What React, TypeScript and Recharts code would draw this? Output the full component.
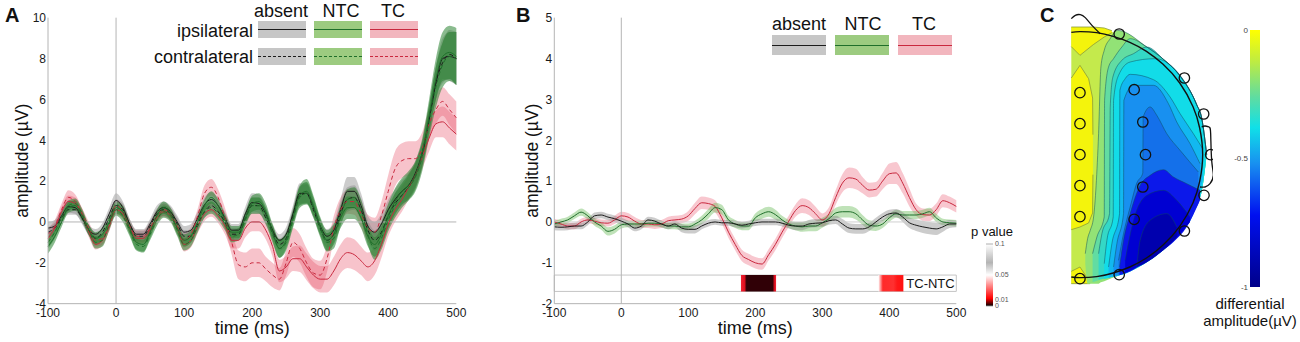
import React from 'react';
import {
  ComposedChart, Area, Line, Scatter, XAxis, YAxis, ReferenceLine, ReferenceArea,
} from 'recharts';

const FONT = '"Liberation Sans", Arial, sans-serif';

const times = [-100,-90,-80,-70,-60,-50,-40,-30,-20,-10,0,10,20,30,40,50,60,70,80,90,100,110,120,130,140,150,160,170,180,190,200,210,220,230,240,250,260,270,280,290,300,310,320,330,340,350,360,370,380,390,400,410,420,430,440,450,460,470,480,490,500];

// Panel A: means
const absentIpsi = [-0.3,-0.2,0.3,0.75,0.7,0.2,-0.4,-0.6,-0.3,0.4,1.05,0.7,-0.1,-0.6,-0.6,-0.1,0.5,0.7,0.5,0,-0.5,-0.4,0.2,0.85,1.1,0.8,0.2,-0.4,-0.4,0.4,0.95,0.9,0.4,-0.4,-0.9,-0.6,0.4,1.4,1.4,0.7,-0.2,-0.7,-0.4,0.6,1.5,1.5,0.8,-0.2,-0.5,-0.1,0.6,1.1,1.5,1.8,2.4,3.4,5,6.8,8,8.1,8];
const absentContra = [-0.5,-0.3,0.2,0.6,0.6,0.2,-0.4,-0.8,-0.5,0.2,0.8,0.6,-0.1,-0.7,-0.7,-0.2,0.4,0.6,0.4,-0.1,-0.7,-0.7,-0.1,0.5,0.8,0.5,0,-0.6,-0.6,0.2,0.8,0.8,0.2,-0.5,-1.1,-0.8,0.3,1.3,1.4,0.6,-0.3,-0.9,-0.6,0.4,1.1,1.2,0.6,-0.4,-0.9,-0.5,0.3,0.9,1.3,1.7,2.3,3.3,5,6.8,7.8,8.2,8];
const ntcIpsi = [-1.2,-0.7,0,0.7,0.8,0.3,-0.4,-0.8,-0.6,0,0.7,0.5,-0.3,-1,-1.1,-0.5,0.3,0.7,0.4,-0.3,-0.9,-0.7,0,0.8,1.2,0.8,0.1,-0.5,-0.5,0.2,0.9,1,0.5,-0.5,-1.3,-0.9,0.2,1.3,1.5,0.8,-0.2,-0.9,-0.6,0.2,0.7,0.7,0.2,-0.7,-1.1,-0.6,0.3,1,1.5,1.8,2.3,3.4,5.2,7,8.1,8.3,8.1];
const ntcContra = [-1,-0.5,0.2,0.8,0.9,0.4,-0.4,-1,-0.9,-0.1,0.6,0.3,-0.4,-1.1,-1.2,-0.6,0.1,0.5,0.3,-0.4,-1.1,-0.9,-0.2,0.5,0.7,0.4,-0.1,-0.7,-0.6,0.1,0.8,0.8,0.3,-0.6,-1.3,-1,0.1,1.2,1.4,0.7,-0.3,-1,-0.8,0.3,1.1,1.2,0.6,-0.6,-1.3,-0.8,0.1,0.8,1.3,1.7,2.2,3.2,4.9,6.6,7.7,8.1,8];
const tcIpsi = [-0.8,-0.3,0.5,1,0.9,0.4,-0.5,-1.1,-0.9,-0.2,0.6,0.4,-0.3,-0.8,-0.8,-0.4,0.2,0.5,0.3,-0.3,-1.1,-0.9,-0.2,0.4,0.6,0.3,-0.2,-0.9,-0.9,-0.3,0,0,-0.4,-1.2,-2.4,-2.2,-1.8,-1.8,-2.2,-2.6,-2.8,-2.8,-2.4,-1.8,-1.5,-1.6,-1.9,-2.2,-1.9,-1.1,-0.1,0.6,1.1,1.7,2.3,3.2,4.1,4.8,4.9,4.6,4.3];
const tcContra = [-0.6,-0.2,0.6,1.2,1,0.4,-0.3,-0.9,-0.8,-0.1,0.8,0.5,-0.2,-0.7,-0.7,-0.3,0.3,0.6,0.4,-0.2,-0.9,-0.6,0.3,1.4,1.7,1.2,0.2,-1,-2.1,-2.2,-2,-2,-2.3,-2.6,-2.8,-2,-1,-1.3,-2,-2.5,-2.6,-1.8,-0.3,0.6,1,1,0.4,-0.3,-0.5,0.3,1.5,2.6,3,3.1,3.1,3.6,4.8,5.5,5.9,5.5,5.1];

// Panel A: error widths
const errAbsentIpsi = [0.3,0.3,0.3,0.3,0.3,0.3,0.25,0.25,0.25,0.3,0.35,0.3,0.25,0.25,0.25,0.25,0.3,0.3,0.3,0.3,0.3,0.3,0.3,0.35,0.35,0.35,0.3,0.3,0.3,0.35,0.45,0.45,0.35,0.3,0.3,0.35,0.4,0.5,0.5,0.4,0.35,0.35,0.4,0.5,0.7,0.7,0.6,0.5,0.5,0.5,0.5,0.5,0.55,0.6,0.6,0.6,0.7,0.8,1,1.2,1.3];
const errAbsentContra = [0.25,0.25,0.25,0.25,0.25,0.25,0.25,0.25,0.25,0.3,0.3,0.3,0.25,0.25,0.25,0.25,0.25,0.3,0.3,0.3,0.3,0.3,0.3,0.3,0.3,0.3,0.3,0.3,0.3,0.3,0.4,0.4,0.35,0.3,0.3,0.35,0.4,0.45,0.45,0.4,0.35,0.35,0.4,0.5,0.6,0.6,0.55,0.5,0.5,0.5,0.5,0.5,0.5,0.55,0.6,0.6,0.7,0.8,1,1.2,1.3];
const errNtcIpsi = [0.35,0.3,0.25,0.25,0.25,0.25,0.25,0.3,0.3,0.3,0.3,0.3,0.3,0.35,0.35,0.3,0.3,0.3,0.3,0.3,0.3,0.3,0.3,0.3,0.3,0.3,0.3,0.3,0.3,0.3,0.4,0.4,0.4,0.4,0.45,0.4,0.4,0.5,0.6,0.5,0.45,0.5,0.5,0.5,0.55,0.55,0.5,0.5,0.6,0.6,0.6,0.65,0.65,0.7,0.7,0.7,0.8,1,1.2,1.3,1.4];
const errNtcContra = [0.3,0.3,0.25,0.25,0.25,0.25,0.25,0.3,0.3,0.3,0.3,0.3,0.3,0.3,0.3,0.3,0.3,0.3,0.3,0.3,0.3,0.3,0.3,0.3,0.3,0.3,0.3,0.3,0.3,0.3,0.4,0.4,0.4,0.4,0.45,0.4,0.4,0.5,0.55,0.5,0.45,0.45,0.5,0.5,0.5,0.5,0.5,0.5,0.55,0.55,0.55,0.6,0.6,0.65,0.7,0.7,0.8,1,1.1,1.2,1.3];
const errTcIpsi = [0.25,0.25,0.25,0.3,0.3,0.25,0.25,0.25,0.25,0.25,0.25,0.25,0.25,0.25,0.25,0.25,0.25,0.25,0.25,0.3,0.35,0.35,0.35,0.35,0.35,0.35,0.4,0.4,0.4,0.45,0.45,0.45,0.45,0.5,0.55,0.55,0.6,0.65,0.65,0.65,0.65,0.65,0.7,0.7,0.75,0.75,0.7,0.7,0.7,0.65,0.6,0.6,0.6,0.6,0.6,0.6,0.65,0.65,0.75,0.8,0.8];
const errTcContra = [0.3,0.3,0.3,0.35,0.35,0.3,0.3,0.3,0.3,0.3,0.3,0.3,0.3,0.3,0.3,0.3,0.3,0.3,0.3,0.3,0.35,0.35,0.35,0.4,0.4,0.4,0.5,0.6,0.7,0.7,0.7,0.7,0.6,0.6,0.55,0.6,0.7,0.7,0.7,0.7,0.7,0.65,0.6,0.6,0.6,0.65,0.65,0.65,0.7,0.7,0.8,0.85,0.85,0.85,0.85,0.8,0.75,0.7,0.7,0.75,0.8];

// Panel B
const diffAbsent = [-0.12,-0.13,-0.12,-0.1,-0.1,0,0.15,0.17,0.12,0.08,0.02,-0.05,-0.15,-0.1,0.05,0.02,-0.05,-0.1,-0.05,-0.15,-0.18,-0.18,-0.1,-0.03,0,-0.02,-0.02,-0.05,-0.08,-0.05,-0.02,0,0,0,-0.03,-0.08,-0.1,-0.1,-0.05,-0.03,-0.02,0.03,0.05,-0.05,-0.15,-0.17,-0.17,-0.12,0,0.12,0.2,0.22,0.12,-0.02,-0.08,-0.12,-0.15,-0.17,-0.12,-0.05,-0.05];
const diffNtc = [-0.05,0,0.05,0.15,0.24,0.15,0,-0.1,-0.23,-0.18,-0.07,-0.05,-0.05,-0.05,-0.03,-0.03,-0.05,-0.1,-0.1,-0.12,-0.12,-0.05,0.05,0.2,0.35,0.3,0.05,-0.05,-0.1,-0.1,0.1,0.2,0.25,0.18,0.05,-0.05,-0.1,-0.12,-0.1,-0.1,-0.02,0.08,0.22,0.25,0.25,0.2,0.05,-0.08,-0.1,-0.05,0.1,0.2,0.17,0.17,0.17,0.2,0.25,0.1,0,-0.02,-0.03];
const diffTc = [0,-0.05,-0.1,-0.1,0,0.05,0.02,-0.02,-0.03,0.05,0.15,0.12,0.02,-0.05,-0.05,-0.07,-0.05,0.03,0.05,0.07,0.15,0.33,0.47,0.45,0.38,0.1,-0.25,-0.55,-0.82,-0.92,-1,-1.03,-0.8,-0.55,-0.25,0.02,0.28,0.4,0.35,0.2,0.05,0.2,0.6,0.95,1.08,1.05,0.9,0.78,0.8,1,1.18,1.2,0.95,0.6,0.3,0.18,0.17,0.3,0.52,0.47,0.38];
const errDiffAbsent = [0.08,0.08,0.08,0.08,0.08,0.08,0.08,0.08,0.08,0.08,0.08,0.08,0.08,0.08,0.08,0.08,0.08,0.08,0.08,0.1,0.1,0.1,0.08,0.08,0.07,0.07,0.07,0.08,0.08,0.08,0.08,0.08,0.08,0.08,0.08,0.08,0.1,0.1,0.1,0.1,0.1,0.1,0.1,0.12,0.12,0.12,0.12,0.1,0.1,0.1,0.1,0.1,0.12,0.13,0.14,0.15,0.15,0.15,0.12,0.1,0.08];
const errDiffNtc = [0.08,0.08,0.08,0.08,0.09,0.09,0.09,0.09,0.1,0.1,0.09,0.08,0.08,0.08,0.08,0.08,0.08,0.08,0.08,0.08,0.08,0.08,0.1,0.12,0.12,0.12,0.1,0.1,0.1,0.1,0.11,0.12,0.12,0.12,0.1,0.1,0.1,0.12,0.13,0.13,0.12,0.12,0.13,0.14,0.14,0.14,0.12,0.12,0.12,0.1,0.1,0.1,0.1,0.1,0.1,0.1,0.1,0.1,0.08,0.08,0.08];
const errDiffTc = [0.08,0.08,0.08,0.08,0.08,0.08,0.08,0.08,0.08,0.1,0.1,0.1,0.1,0.1,0.1,0.1,0.1,0.1,0.1,0.1,0.12,0.14,0.15,0.15,0.15,0.14,0.14,0.14,0.14,0.14,0.14,0.14,0.14,0.14,0.14,0.14,0.15,0.18,0.18,0.17,0.16,0.16,0.18,0.22,0.25,0.25,0.2,0.18,0.18,0.2,0.25,0.27,0.25,0.22,0.15,0.15,0.15,0.15,0.16,0.15,0.15];

const ticksTime = [-100,0,100,200,300,400,500];
const ticksA = [-4,-2,0,2,4,6,8,10];
const ticksB = [-2,-1,0,1,2,3,4,5];
const sigRow = [-1.7,-1.3];
const sigEarly = [178.6,231];
const sigLate = [383.6,421];
const labelSpan = [425,498];
const pTicks = [0,0.01,0.05,0.1];
const pRange = [0,0.1];
const cbTicks = [0,-0.5,-1];
const cbRange = [-1,0];

// Panel C: scalp map, head radius = 369 units, midline at x = 0
const discOutline = [[-26,383,-387],[0,381,-381],[51,378,-378],[113,364,-364],[151,350,-350],[201,323,-323],[251,286,-286],[301,236,-236],[351,150,-150],[366,110,-110],[381,0,0]];
const yellowColumn = [[-26,230,-225],[0,268,-217],[26,228,-205],[38,170,-175],[39,60,-60]];
const yellowTop = [[-26,383,324],[0,383,298],[40,383,330],[73,380,353],[96,372,366]];
const yellowBottom = [[-26,-350,-387],[0,-337,-387],[22,-370,-387],[30,-387,-387]];
const levels = [
  { color: '#92e276', pts: [[16,-297,-327],[23,-252,-387],[31,-227,-387],[41,-187,-387],[56,63,-387],[63,263,-383],[73,313,-380],[91,348,-372],[113,373,-364],[201,323,-323],[251,286,-286],[301,236,-236],[351,150,-150],[366,110,-110],[381,0,0]] },
  { color: '#62dca2', pts: [[38,-297,-382],[51,-247,-378],[73,-187,-372],[74,163,-372],[86,263,-369],[101,288,-365],[126,323,-359],[151,348,-350],[201,323,-323],[251,286,-286],[301,236,-236],[351,150,-150],[366,110,-110],[381,0,0]] },
  { color: '#34d8c6', pts: [[56,-297,-375],[66,-237,-373],[89,-177,-369],[91,143,-368],[99,233,-366],[126,283,-359],[161,303,-345],[201,323,-323],[251,286,-286],[301,236,-236],[351,150,-150],[366,110,-110],[381,0,0]] },
  { color: '#12dce8', pts: [[73,-327,-372],[81,-257,-370],[100,-187,-366],[101,163,-366],[116,238,-363],[151,278,-350],[226,288,-305],[301,238,-236],[351,150,-150],[366,110,-110],[381,0,0]] },
  { color: '#12b8f0', pts: [[86,-337,-369],[96,-267,-367],[119,-177,-361],[120,193,-361],[136,228,-357],[151,241,-350],[221,225,-305],[271,173,-262],[301,123,-236],[341,63,-177],[369,18,-77]] },
  { color: '#1890f0', pts: [[101,-337,-365],[111,-267,-363],[131,-177,-357],[132,163,-357],[161,208,-345],[221,208,-305],[266,153,-262],[291,98,-242],[331,33,-187],[361,-27,-127]] },
  { color: '#1470ea', pts: [[116,-317,-362],[131,-237,-357],[151,-157,-350],[171,-85,-337],[189,-55,-328],[190,113,-327],[211,143,-315],[231,118,-299],[261,63,-272],[301,13,-236],[356,-52,-147]] },
  { color: '#0c18ea', pts: [[119,-337,-362],[131,-257,-357],[151,-177,-350],[181,-92,-332],[211,-62,-315],[251,-45,-286],[281,-67,-262],[321,-87,-217],[361,-107,-137]] },
  { color: '#0000d2', pts: [[136,-317,-355],[161,-197,-343],[201,-122,-323],[251,-107,-286],[291,-137,-249],[331,-187,-202]] },
  { color: '#0000ae', pts: [[171,-337,-337],[181,-257,-332],[211,-197,-315],[261,-177,-277],[291,-217,-247]] },
];
const electrodes = [[0,186],[0,93],[0,0],[0,-93],[0,-186],[0,-372],[118,362],[314,230],[372,122],[393,0],[373,-122],[314,-229],[118,-360],[163,195],[189,98],[197,0],[189,-97],[163,-194]];
const headArc = [[-26,367],[0,369],[50,366],[100,355],[150,337],[200,310],[250,271],[300,215],[340,144],[360,80],[369,0],[360,-80],[340,-144],[300,-215],[250,-271],[200,-310],[150,-337],[100,-355],[50,-366],[0,-369],[-26,-367]];
const noseTrace = [[-26,408],[-14,418],[1,420],[16,411],[36,388],[61,363]];
const earTrace = [[366,83],[376,86],[388,83],[393,63],[396,-17],[401,-62],[391,-87],[376,-97],[361,-97]];

const band = (m: number, e: number) => [m - e, m + e];
const rowsA = times.map((t, i) => ({
  t,
  absentIpsi: absentIpsi[i], absentContra: absentContra[i],
  ntcIpsi: ntcIpsi[i], ntcContra: ntcContra[i],
  tcIpsi: tcIpsi[i], tcContra: tcContra[i],
  bAbsentIpsi: band(absentIpsi[i], errAbsentIpsi[i]),
  bAbsentContra: band(absentContra[i], errAbsentContra[i]),
  bNtcIpsi: band(ntcIpsi[i], errNtcIpsi[i]),
  bNtcContra: band(ntcContra[i], errNtcContra[i]),
  bTcIpsi: band(tcIpsi[i], errTcIpsi[i]),
  bTcContra: band(tcContra[i], errTcContra[i]),
}));
const rowsB = times.map((t, i) => ({
  t,
  absent: diffAbsent[i], ntc: diffNtc[i], tc: diffTc[i],
  bAbsent: band(diffAbsent[i], errDiffAbsent[i]),
  bNtc: band(diffNtc[i], errDiffNtc[i]),
  bTc: band(diffTc[i], errDiffTc[i]),
}));
const toRows = (pts: number[][]) => pts.map(([x, hi, lo]) => ({ x, hi, lo, range: [lo, hi] }));
const toXY = (pts: number[][]) => pts.map(([x, y]) => ({ x, y }));
const pRows = [{ x: 0, range: pRange }, { x: 1, range: pRange }];
const cbRows = [{ x: 0, range: cbRange }, { x: 1, range: cbRange }];

const BLACK = '#1c1c1c';
const GREEN = '#1f6f2a';
const RED = '#c9283e';
const AXIS = '#b4b4b4';
const TICK = { fontSize: 12, fill: '#1a1a1a', fontFamily: FONT };

const pos = (left: number, top: number): React.CSSProperties => ({ position: 'absolute', left, top });

function Txt({ x, y, size, anchor = 'center', bold, children }: any) {
  const t = anchor === 'center' ? 'translate(-50%,-50%)' : anchor === 'right' ? 'translate(-100%,-50%)' : 'translate(0,-50%)';
  return (
    <div style={{ ...pos(x, y), transform: t, fontSize: size, fontWeight: bold ? 700 : 400, color: '#111', whiteSpace: 'nowrap', lineHeight: 1 }}>
      {children}
    </div>
  );
}

function Swatch({ x, y, w, h, fill, line, dashed }: any) {
  return (
    <div style={{ ...pos(x, y), width: w, height: h, background: fill }}>
      <div style={{ position: 'absolute', left: 0, right: 0, top: h / 2 - 0.5, borderTop: `1px ${dashed ? 'dashed' : 'solid'} ${line}` }} />
    </div>
  );
}

const xLabel = { value: 'time (ms)', position: 'insideTop', offset: 18, fontSize: 18, fill: '#111', fontFamily: FONT };
const yLabel = (offset: number) => ({ value: 'amplitude (µV)', angle: -90, position: 'insideLeft', offset, fontSize: 17.5, fill: '#111', fontFamily: FONT, textAnchor: 'middle' });

function bandArea(key: string, fill: string, opacity: number) {
  return <Area key={key} dataKey={key} type="monotone" stroke="none" fill={fill} fillOpacity={opacity} dot={false} activeDot={false} isAnimationActive={false} />;
}
function traceLine(key: string, stroke: string, dashed = false) {
  return <Line key={key} dataKey={key} type="monotone" stroke={stroke} strokeWidth={1} strokeDasharray={dashed ? '4 3' : undefined} dot={false} activeDot={false} isAnimationActive={false} />;
}

function PanelA() {
  return (
    <div style={pos(0, 0)}>
      <ComposedChart width={480} height={342} data={rowsA} margin={{ top: 17.67, right: 23.7, bottom: 0.33, left: 0 }}>
        <XAxis dataKey="t" type="number" domain={[-100, 500]} ticks={ticksTime} tickLine={false} tickSize={0} tickMargin={5} stroke={AXIS} tick={TICK} height={38} label={xLabel as any} interval={0} />
        <YAxis type="number" domain={[-4, 10]} ticks={ticksA} tickLine={false} tickSize={0} tickMargin={2} stroke={AXIS} tick={TICK} width={48} label={yLabel(22) as any} interval={0} />
        <ReferenceLine y={0} stroke={AXIS} />
        <ReferenceLine x={0} stroke={AXIS} />
        {bandArea('bTcIpsi', '#e84a62', 0.33)}
        {bandArea('bTcContra', '#e84a62', 0.33)}
        {bandArea('bAbsentIpsi', '#808080', 0.4)}
        {bandArea('bAbsentContra', '#808080', 0.4)}
        {bandArea('bNtcIpsi', '#2a8332', 0.55)}
        {bandArea('bNtcContra', '#2a8332', 0.55)}
        {traceLine('absentIpsi', BLACK)}
        {traceLine('absentContra', BLACK, true)}
        {traceLine('tcIpsi', RED)}
        {traceLine('tcContra', RED, true)}
        {traceLine('ntcIpsi', GREEN)}
        {traceLine('ntcContra', GREEN, true)}
      </ComposedChart>
      <Txt x={281} y={11} size={18}>absent</Txt>
      <Txt x={341} y={11} size={18}>NTC</Txt>
      <Txt x={393} y={11} size={18}>TC</Txt>
      <Txt x={253} y={31} size={18} anchor="right">ipsilateral</Txt>
      <Txt x={253} y={57} size={18} anchor="right">contralateral</Txt>
      <Swatch x={258} y={21} w={48} h={17} fill="#c6c6c6" line={BLACK} />
      <Swatch x={314} y={21} w={48} h={17} fill="#9ccb80" line={GREEN} />
      <Swatch x={370} y={21} w={48} h={17} fill="#f2b6be" line={RED} />
      <Swatch x={258} y={48} w={48} h={17} fill="#c6c6c6" line={BLACK} dashed />
      <Swatch x={314} y={48} w={48} h={17} fill="#9ccb80" line={GREEN} dashed />
      <Swatch x={370} y={48} w={48} h={17} fill="#f2b6be" line={RED} dashed />
      <Txt x={5} y={15} size={20} anchor="left" bold>A</Txt>
    </div>
  );
}

function PanelB() {
  return (
    <div style={pos(500, 0)}>
      <ComposedChart width={490} height={342} data={rowsB} margin={{ top: 17.67, right: 33.7, bottom: 0.33, left: 0 }}>
        <defs>
          <linearGradient id="sigEarlyFill" x1="0" x2="1" y1="0" y2="0">
            <stop offset="0" stopColor="#f02030" />
            <stop offset="0.1" stopColor="#e01020" />
            <stop offset="0.16" stopColor="#300006" />
            <stop offset="0.9" stopColor="#300006" />
            <stop offset="0.96" stopColor="#e01020" />
            <stop offset="1" stopColor="#f02030" />
          </linearGradient>
          <linearGradient id="sigLateFill" x1="0" x2="1" y1="0" y2="0">
            <stop offset="0" stopColor="#ffffff" />
            <stop offset="0.18" stopColor="#ff2a2a" />
            <stop offset="0.6" stopColor="#ff3030" />
            <stop offset="0.75" stopColor="#ff1818" />
            <stop offset="1" stopColor="#ff1010" />
          </linearGradient>
        </defs>
        <XAxis dataKey="t" type="number" domain={[-100, 500]} ticks={ticksTime} tickLine={false} tickSize={0} tickMargin={5} stroke={AXIS} tick={TICK} height={38} label={xLabel as any} interval={0} />
        <YAxis type="number" domain={[-2, 5]} ticks={ticksB} tickLine={false} tickSize={0} tickMargin={2} stroke={AXIS} tick={TICK} width={54.3} label={yLabel(32) as any} interval={0} />
        <ReferenceLine y={0} stroke="#d0d0d0" />
        <ReferenceLine x={0} stroke={AXIS} />
        <ReferenceArea x1={-100} x2={500} y1={sigRow[0]} y2={sigRow[1]} fill="#ffffff" fillOpacity={1} stroke="#c4c4c4" />
        <ReferenceArea x1={sigEarly[0]} x2={sigEarly[1]} y1={sigRow[0]} y2={sigRow[1]} fill="url(#sigEarlyFill)" fillOpacity={1} stroke="none" />
        <ReferenceArea x1={sigLate[0]} x2={sigLate[1]} y1={sigRow[0]} y2={sigRow[1]} fill="url(#sigLateFill)" fillOpacity={1} stroke="none" />
        <ReferenceArea x1={labelSpan[0]} x2={labelSpan[1]} y1={sigRow[0]} y2={sigRow[1]} fill="none" stroke="none" label={{ value: 'TC-NTC', position: 'center', fontSize: 13, fill: '#111', fontFamily: FONT }} />
        {bandArea('bTc', '#e8506a', 0.32)}
        {bandArea('bNtc', '#66bb55', 0.42)}
        {bandArea('bAbsent', '#808080', 0.4)}
        {traceLine('tc', RED)}
        {traceLine('ntc', GREEN)}
        {traceLine('absent', BLACK)}
      </ComposedChart>
      <Txt x={299} y={24} size={18}>absent</Txt>
      <Txt x={363} y={24} size={18}>NTC</Txt>
      <Txt x={424} y={24} size={18}>TC</Txt>
      <Swatch x={272} y={35} w={54} h={20} fill="#c6c6c6" line={BLACK} />
      <Swatch x={335} y={35} w={54} h={20} fill="#9ccb80" line={GREEN} />
      <Swatch x={398} y={35} w={54} h={20} fill="#f2b6be" line={RED} />
      <Txt x={16} y={15} size={20} anchor="left" bold>B</Txt>
      <Txt x={492} y={231} size={13}>p value</Txt>
      <div style={pos(486, 238)}>
        <ComposedChart width={30} height={74} data={pRows} margin={{ top: 6, right: 0, bottom: 6, left: 0 }}>
          <defs>
            <linearGradient id="pFill" x1="0" x2="0" y1="0" y2="1">
              <stop offset="0" stopColor="#ffffff" />
              <stop offset="0.3" stopColor="#b4b4b4" />
              <stop offset="0.5" stopColor="#ffffff" />
              <stop offset="0.66" stopColor="#ff9090" />
              <stop offset="0.88" stopColor="#ff0000" />
              <stop offset="1" stopColor="#000000" />
            </linearGradient>
          </defs>
          <XAxis dataKey="x" type="number" domain={[0, 1]} hide />
          <YAxis orientation="right" type="number" domain={[0, 0.1]} ticks={pTicks} tickLine={false} axisLine={false} tickSize={0} tickMargin={2} width={23} interval={0} tick={{ fontSize: 7, fill: '#555', fontFamily: FONT }} />
          <Area dataKey="range" type="linear" fill="url(#pFill)" fillOpacity={1} stroke="#999" strokeWidth={0.8} dot={false} activeDot={false} isAnimationActive={false} />
        </ComposedChart>
      </div>
    </div>
  );
}

function Ring(props: any) {
  return <circle cx={props.cx} cy={props.cy} r={5.2} fill="none" stroke="#111" strokeWidth={1.3} />;
}
const NoPoint = () => null;

function PanelC() {
  const discRows = toRows(discOutline);
  return (
    <>
      <div style={pos(1059.67, 6.67)}>
        <ComposedChart width={153.33} height={295.33} margin={{ top: 0, right: 0, bottom: 0, left: 0 }} data={discRows}>
          <XAxis dataKey="x" type="number" domain={[-60, 400]} hide />
          <YAxis type="number" domain={[-443, 443]} hide />
          <Area data={discRows} dataKey="range" type="linear" stroke="none" fill="#c4ea4c" fillOpacity={1} dot={false} activeDot={false} isAnimationActive={false} />
          {[yellowColumn, yellowTop, yellowBottom].map((p, i) => (
            <Area key={`y${i}`} data={toRows(p)} dataKey="range" type="linear" stroke="#8a9a3a" strokeWidth={0.8} fill="#f4f40c" fillOpacity={1} dot={false} activeDot={false} isAnimationActive={false} />
          ))}
          {levels.map((lv, i) => (
            <Area key={`a${i}`} data={toRows(lv.pts)} dataKey="range" type="monotone" stroke="none" fill={lv.color} fillOpacity={1} dot={false} activeDot={false} isAnimationActive={false} />
          ))}
          {levels.map((lv, i) => (
            <Line key={`l${i}`} data={toRows(lv.pts)} dataKey="hi" type="monotone" stroke="#0d4a58" strokeOpacity={0.6} strokeWidth={0.8} dot={false} activeDot={false} isAnimationActive={false} />
          ))}
          <Scatter data={toXY(headArc)} dataKey="y" line={{ stroke: '#111', strokeWidth: 1.4 }} lineJointType="natural" shape={NoPoint as any} isAnimationActive={false} />
          <Scatter data={toXY(noseTrace)} dataKey="y" line={{ stroke: '#111', strokeWidth: 1.3 }} lineJointType="natural" shape={NoPoint as any} isAnimationActive={false} />
          <Scatter data={toXY(earTrace)} dataKey="y" line={{ stroke: '#111', strokeWidth: 1.3 }} lineJointType="natural" shape={NoPoint as any} isAnimationActive={false} />
          <Scatter data={toXY(electrodes)} dataKey="y" shape={Ring as any} isAnimationActive={false} />
        </ComposedChart>
      </div>
      <div style={pos(1220, 24)}>
        <ComposedChart width={40} height={269} data={cbRows} margin={{ top: 6, right: 0, bottom: 6, left: 0 }}>
          <defs>
            <linearGradient id="cbFill" x1="0" x2="0" y1="0" y2="1">
              <stop offset="0" stopColor="#ffff00" />
              <stop offset="0.12" stopColor="#c0ec40" />
              <stop offset="0.26" stopColor="#60dca0" />
              <stop offset="0.38" stopColor="#10e0e8" />
              <stop offset="0.52" stopColor="#1890f0" />
              <stop offset="0.72" stopColor="#0010f0" />
              <stop offset="1" stopColor="#00008a" />
            </linearGradient>
          </defs>
          <XAxis dataKey="x" type="number" domain={[0, 1]} hide />
          <YAxis type="number" domain={[-1, 0]} ticks={cbTicks} tickLine={false} axisLine={false} tickSize={0} tickMargin={2} width={30} interval={0} tick={{ fontSize: 8, fill: '#444', fontFamily: FONT }} />
          <Area dataKey="range" type="linear" fill="url(#cbFill)" fillOpacity={1} stroke="none" dot={false} activeDot={false} isAnimationActive={false} />
        </ComposedChart>
      </div>
      <Txt x={1040} y={15} size={20} anchor="left" bold>C</Txt>
      <Txt x={1250} y={303} size={15}>differential</Txt>
      <Txt x={1250} y={320} size={15}>amplitude(µV)</Txt>
    </>
  );
}

export default function App() {
  return (
    <div style={{ position: 'absolute', left: 0, top: 0, width: 1300, height: 342, overflow: 'hidden', background: '#fff', fontFamily: FONT }}>
      <PanelA />
      <PanelB />
      <PanelC />
    </div>
  );
}
